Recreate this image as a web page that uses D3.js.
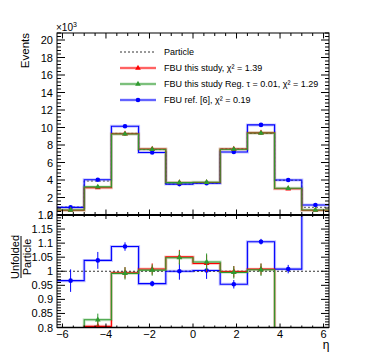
<!DOCTYPE html>
<head>
    <meta charset="utf-8">
    <script src="https://d3js.org/d3.v7.min.js"></script>
    <style>
        body { margin: 0; background: #fff; }
        text { font-family: "Liberation Sans", Arial, sans-serif; fill: #000; }
    </style>
</head>

<div id="my_dataviz"></div>

<script>
// bin edges in eta
var edges = [-6.25, -5, -3.75, -2.5, -1.25, 0, 1.25, 2.5, 3.75, 5, 6.25];

// events, x10^3
var particle = [0.90, 3.88, 9.33, 7.48, 3.53, 3.62, 7.55, 9.32, 3.97, 0.88];
var fbu      = [0.55, 3.12, 9.28, 7.54, 3.71, 3.72, 7.54, 9.39, 3.00, 0.55];
var fbuReg   = [0.57, 3.21, 9.26, 7.51, 3.70, 3.74, 7.52, 9.37, 3.05, 0.57];
var fbuRef   = [0.87, 4.03, 10.15, 7.15, 3.53, 3.63, 7.20, 10.30, 4.00, 1.14];

// relative errors
var fbuErr    = [0.03, 0.02, 0.02, 0.02, 0.025, 0.03, 0.02, 0.02, 0.03, 0.03];
var fbuRegErr = [0.03, 0.022, 0.022, 0.02, 0.025, 0.03, 0.022, 0.022, 0.03, 0.03];
var fbuRefErr = [0.04, 0.03, 0.015, 0.01, 0.03, 0.03, 0.015, 0.01, 0.015, 0.05];

var legendLabels = [
    "Particle",
    "FBU this study, \u03c7\u00b2 = 1.39",
    "FBU this study Reg. \u03c4 = 0.01, \u03c7\u00b2 = 1.29",
    "FBU ref. [6], \u03c7\u00b2 = 0.19"
];

var W = 374, H = 361;
var left = 57, right = 329;
var topY0 = 33, midY = 215, botY = 327.5;

var svg = d3.select("#my_dataviz")
    .append("svg")
    .attr("width", W)
    .attr("height", H);

var x = d3.scaleLinear().domain([-6.25, 6.25]).range([left, right]);
var yTop = d3.scaleLinear().domain([0, 20.8]).range([midY, topY0]);
var yBot = d3.scaleLinear().domain([0.8, 1.2]).range([botY, midY]);

var defs = svg.append("defs");
defs.append("clipPath").attr("id", "clipTop").append("rect")
    .attr("x", left).attr("y", topY0).attr("width", right - left).attr("height", midY - topY0);
defs.append("clipPath").attr("id", "clipBot").append("rect")
    .attr("x", left).attr("y", midY).attr("width", right - left).attr("height", botY - midY);

var centers = d3.range(particle.length).map(function(i) { return (edges[i] + edges[i + 1]) / 2; });

function stepPath(vals, y) {
    var p = d3.path();
    vals.forEach(function(v, i) {
        if (i == 0) p.moveTo(x(edges[0]), y(v));
        else p.lineTo(x(edges[i]), y(v));
        p.lineTo(x(edges[i + 1]), y(v));
    });
    return p.toString();
}

var series = [
    { vals: fbuRef, err: fbuRefErr, color: "#0000ff", light: "#8080ff", marker: "circle" },
    { vals: fbu,    err: fbuErr,    color: "#ff0000", light: "#ff8080", marker: "triangle" },
    { vals: fbuReg, err: fbuRegErr, color: "#2f9a2f", light: "#8cc88c", marker: "triangle" }
];

var tri = d3.symbol().type(d3.symbolTriangle).size(14);

function drawMarker(g, cx, cy, s) {
    if (s.marker == "circle") {
        g.append("circle").attr("cx", cx).attr("cy", cy).attr("r", 2.3).attr("fill", s.color);
    } else {
        g.append("path").attr("d", tri).attr("transform", "translate(" + cx + "," + cy + ")").attr("fill", s.color);
    }
}

function drawPanel(g, y, getVals, isRatio) {
    // light bands first
    series.forEach(function(s) {
        g.append("path").attr("d", stepPath(getVals(s), y))
            .attr("fill", "none").attr("stroke", s.light).attr("stroke-width", 3).attr("opacity", 0.45);
    });
    // reference line
    if (isRatio) {
        g.append("line")
            .attr("x1", left).attr("x2", right)
            .attr("y1", y(1)).attr("y2", y(1))
            .attr("stroke", "#000").attr("stroke-width", 0.8).attr("stroke-dasharray", "2,2");
    } else {
        g.append("path").attr("d", stepPath(particle, y))
            .attr("fill", "none").attr("stroke", "#555").attr("stroke-width", 1).attr("stroke-dasharray", "2,2");
    }
    series.forEach(function(s) {
        var v = getVals(s);
        g.append("path").attr("d", stepPath(v, y))
            .attr("fill", "none").attr("stroke", s.color).attr("stroke-width", 1.1);
        v.forEach(function(d, i) {
            var e = isRatio ? s.err[i] : s.err[i] * d;
            g.append("line")
                .attr("x1", x(centers[i])).attr("x2", x(centers[i]))
                .attr("y1", y(d - e)).attr("y2", y(d + e))
                .attr("stroke", s.color).attr("stroke-width", 1);
            drawMarker(g, x(centers[i]), y(d), s);
        });
    });
}

// top panel
var gTop = svg.append("g").attr("clip-path", "url(#clipTop)");
drawPanel(gTop, yTop, function(s) { return s.vals; }, false);

// ratio panel
var gBot = svg.append("g").attr("clip-path", "url(#clipBot)");
drawPanel(gBot, yBot, function(s) { return s.vals.map(function(d, i) { return d / particle[i]; }); }, true);

// frames
svg.append("rect").attr("x", left).attr("y", topY0).attr("width", right - left).attr("height", midY - topY0)
    .attr("fill", "none").attr("stroke", "#000").attr("stroke-width", 1);
svg.append("rect").attr("x", left).attr("y", midY).attr("width", right - left).attr("height", botY - midY)
    .attr("fill", "none").attr("stroke", "#000").attr("stroke-width", 1);
svg.append("line").attr("x1", left).attr("x2", right).attr("y1", midY).attr("y2", midY)
    .attr("stroke", "#000").attr("stroke-width", 1.8);
svg.append("line").attr("x1", left).attr("x2", right).attr("y1", botY).attr("y2", botY)
    .attr("stroke", "#000").attr("stroke-width", 1.5);

var ticks = svg.append("g").attr("stroke", "#000").attr("stroke-width", 1);

// x ticks
var xMinor = d3.range(-6, 6.01, 0.5);
xMinor.forEach(function(t) {
    var major = Math.abs(t % 2) < 1e-6;
    var px = x(t);
    ticks.append("line").attr("x1", px).attr("x2", px).attr("y1", topY0).attr("y2", topY0 + (major ? 5.5 : 3));
    ticks.append("line").attr("x1", px).attr("x2", px).attr("y1", midY - (major ? 5.5 : 3)).attr("y2", midY + (major ? 4 : 2));
    ticks.append("line").attr("x1", px).attr("x2", px).attr("y1", botY).attr("y2", botY - (major ? 4 : 2));
});

// top y ticks
d3.range(0, 20.81, 0.4).forEach(function(t) {
    var major = Math.abs(t / 2 - Math.round(t / 2)) < 1e-6;
    var len = major ? 8 : 4;
    ticks.append("line").attr("x1", left).attr("x2", left + len).attr("y1", yTop(t)).attr("y2", yTop(t));
    ticks.append("line").attr("x1", right).attr("x2", right - len).attr("y1", yTop(t)).attr("y2", yTop(t));
});

// ratio y ticks
d3.range(0.8, 1.2001, 0.01).forEach(function(t) {
    var major = Math.abs(t / 0.05 - Math.round(t / 0.05)) < 1e-6;
    var len = major ? 8 : 4;
    ticks.append("line").attr("x1", left).attr("x2", left + len).attr("y1", yBot(t)).attr("y2", yBot(t));
    ticks.append("line").attr("x1", right).attr("x2", right - len).attr("y1", yBot(t)).attr("y2", yBot(t));
});

// tick labels
var yTopLabels = [0, 2, 4, 6, 8, 10, 12, 14, 16, 18, 20];
var yBotLabels = ["0.8", "0.85", "0.9", "0.95", "1", "1.05", "1.1", "1.15", "1.2"];
var xLabels = [-6, -4, -2, 0, 2, 4, 6];

svg.selectAll("ytop").data(yTopLabels).enter().append("text")
    .attr("x", 53).attr("y", function(d) { return yTop(d) + 4; })
    .attr("text-anchor", "end").attr("font-size", "11px")
    .text(function(d) { return d; });

svg.selectAll("ybot").data(yBotLabels).enter().append("text")
    .attr("x", 53).attr("y", function(d) { return yBot(+d) + 4; })
    .attr("text-anchor", "end").attr("font-size", "11px")
    .text(function(d) { return d; });

svg.selectAll("xlab").data(xLabels).enter().append("text")
    .attr("x", function(d) { return x(d); }).attr("y", 337.5)
    .attr("text-anchor", "middle").attr("font-size", "11px")
    .text(function(d) { return d < 0 ? "\u2212" + (-d) : d; });

// axis titles
svg.append("text").attr("x", 326).attr("y", 349).attr("text-anchor", "middle")
    .attr("font-size", "12px").text("\u03b7");

svg.append("text").attr("transform", "translate(29," + topY0 + ") rotate(-90)")
    .attr("text-anchor", "end").attr("font-size", "11.5px").text("Events");

var mult = svg.append("text").attr("x", 56).attr("y", 31).attr("font-size", "10px");
mult.append("tspan").text("\u00d710");
mult.append("tspan").attr("font-size", "7px").attr("dy", -4).text("3");

var rl = svg.append("g").attr("transform", "translate(0,257) rotate(-90)");
rl.append("text").attr("x", 0).attr("y", 19).attr("text-anchor", "middle").attr("font-size", "11px").text("Unfolded");
rl.append("text").attr("x", 0).attr("y", 31).attr("text-anchor", "middle").attr("font-size", "11px").text("Particle");
rl.append("line").attr("x1", -21).attr("x2", 21).attr("y1", 21).attr("y2", 21).attr("stroke", "#000").attr("stroke-width", 1);

// legend
var legY = [52, 68, 84, 100];
var legStyle = [
    { color: "#000", light: null, marker: null },
    series[1], series[2], series[0]
];
legStyle.forEach(function(s, i) {
    var g = svg.append("g");
    if (i == 0) {
        g.append("line").attr("x1", 120).attr("x2", 156).attr("y1", legY[i]).attr("y2", legY[i])
            .attr("stroke", "#000").attr("stroke-width", 0.8).attr("stroke-dasharray", "2,2");
    } else {
        g.append("line").attr("x1", 120).attr("x2", 156).attr("y1", legY[i]).attr("y2", legY[i])
            .attr("stroke", s.light).attr("stroke-width", 3).attr("opacity", 0.45);
        g.append("line").attr("x1", 120).attr("x2", 156).attr("y1", legY[i]).attr("y2", legY[i])
            .attr("stroke", s.color).attr("stroke-width", 1);
        drawMarker(g, 138, legY[i], s);
    }
    g.append("text").attr("x", 164).attr("y", legY[i] + 3.2).attr("font-size", "9px").text(legendLabels[i]);
});
</script>
